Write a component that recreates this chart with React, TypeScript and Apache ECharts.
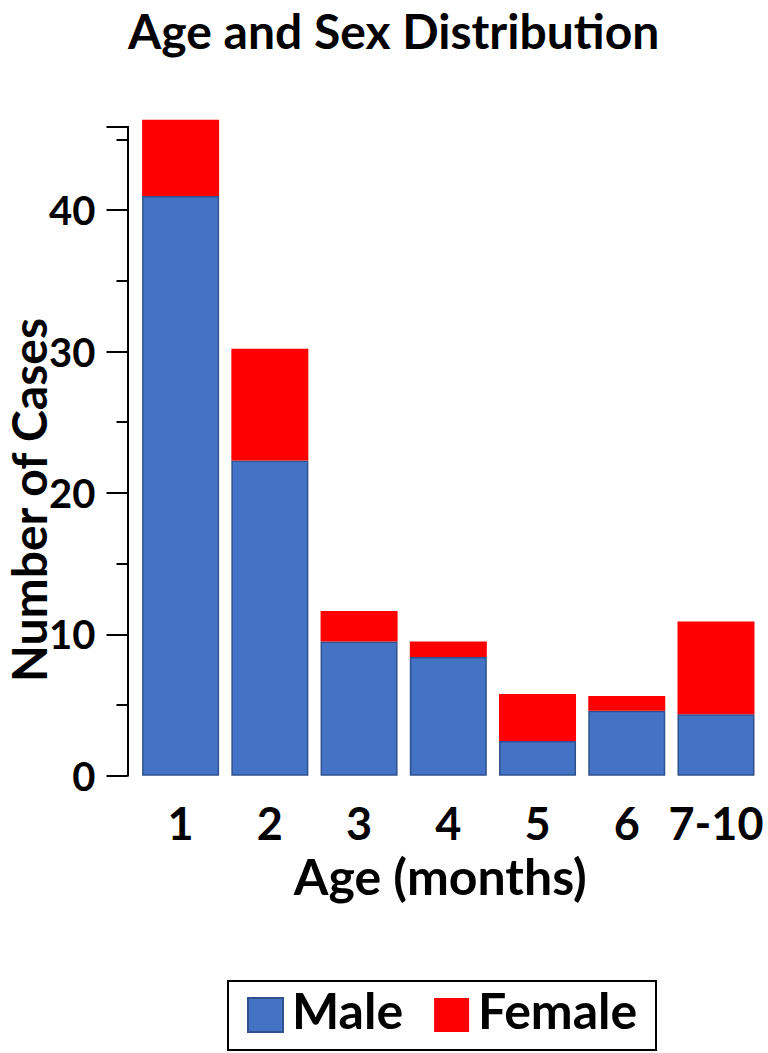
import React, { useEffect, useRef } from "react";
import * as echarts from "echarts";

const categories = ["1", "2", "3", "4", "5", "6", "7-10"];
const maleValues = [41.0, 22.3, 9.5, 8.4, 2.45, 4.6, 4.35];
const femaleValues = [5.4, 7.9, 2.15, 1.1, 3.33, 1.04, 6.55];
const yTicks = [0, 10, 20, 30, 40];

const FONT = "Lato, 'Open Sans', sans-serif";

export default function App() {
  const ref = useRef<HTMLDivElement>(null);
  useEffect(() => {
    if (!ref.current) return;
    const chart = echarts.init(ref.current, undefined, { renderer: "svg" });
    chart.setOption({
      animation: false,
      backgroundColor: "#ffffff",
      title: {
        text: "Age and Sex Distribution",
        left: 128,
        top: 6,
        padding: 0,
        textStyle: { fontFamily: FONT, fontWeight: "bold", fontSize: 48, color: "#000" },
      },
      legend: {
        left: 247,
        top: 985,
        padding: 0,
        itemWidth: 35,
        itemHeight: 34,
        itemGap: 31,
        icon: "rect",
        formatter: "{n|{name}}",
        textStyle: {
          fontFamily: FONT,
          fontWeight: "bold",
          fontSize: 50,
          color: "#000",
          rich: {
            n: {
              fontFamily: FONT,
              fontWeight: "bold",
              fontSize: 50,
              lineHeight: 50,
              color: "#000",
              padding: [0, 0, 10, 4],
            },
          },
        },
        data: ["Male", "Female"],
      },
      grid: { left: 136, right: 7.4, top: 126.7, bottom: 277.3 },
      xAxis: {
        type: "category",
        data: categories,
        axisLine: { show: false },
        axisTick: { show: false },
        axisLabel: { margin: 25, fontFamily: FONT, fontWeight: "bold", fontSize: 45, color: "#000", interval: 0 },
        name: "Age (months)",
        nameLocation: "middle",
        nameGap: 75,
        nameTextStyle: { fontFamily: FONT, fontWeight: "bold", fontSize: 50, color: "#000", padding: [0, 16, 0, 0] },
      },
      yAxis: {
        type: "value",
        min: 0,
        max: 45.9,
        interval: 10,
        offset: 8.5,
        axisLine: { show: true, lineStyle: { color: "#000", width: 2 } },
        axisTick: { show: true, length: 21, lineStyle: { color: "#000", width: 2 } },
        minorTick: { show: true, splitNumber: 2, length: 11, lineStyle: { color: "#000", width: 2 } },
        splitLine: { show: false },
        axisLabel: {
          margin: 32,
          fontFamily: FONT,
          fontWeight: "bold",
          fontSize: 40,
          color: "#000",
          showMaxLabel: false,
          formatter: (v: number) => (yTicks.includes(v) ? String(v) : ""),
        },
      },
      graphic: [
        {
          type: "text",
          x: 28,
          y: 500,
          rotation: Math.PI / 2,
          style: {
            text: "Number of Cases",
            font: `bold 48px ${FONT}`,
            fill: "#000",
            align: "center",
            verticalAlign: "middle",
          },
        },
        {
          type: "rect",
          shape: { x: 228, y: 981, width: 428, height: 69 },
          style: { fill: "none", stroke: "#000", lineWidth: 2 },
          silent: true,
        },
      ],
      series: [
        {
          name: "Male",
          type: "bar",
          stack: "total",
          data: maleValues,
          barCategoryGap: "13.7%",
          clip: false,
          itemStyle: { color: "#4472C4", borderColor: "#2F528F", borderWidth: 1.5 },
        },
        {
          name: "Female",
          type: "bar",
          stack: "total",
          data: femaleValues,
          clip: false,
          itemStyle: { color: "#FF0000" },
        },
      ],
    });
    return () => chart.dispose();
  }, []);
  return (
    <div
      ref={ref}
      style={{ position: "absolute", left: 0, top: 0, width: 768, height: 1053 }}
    />
  );
}
